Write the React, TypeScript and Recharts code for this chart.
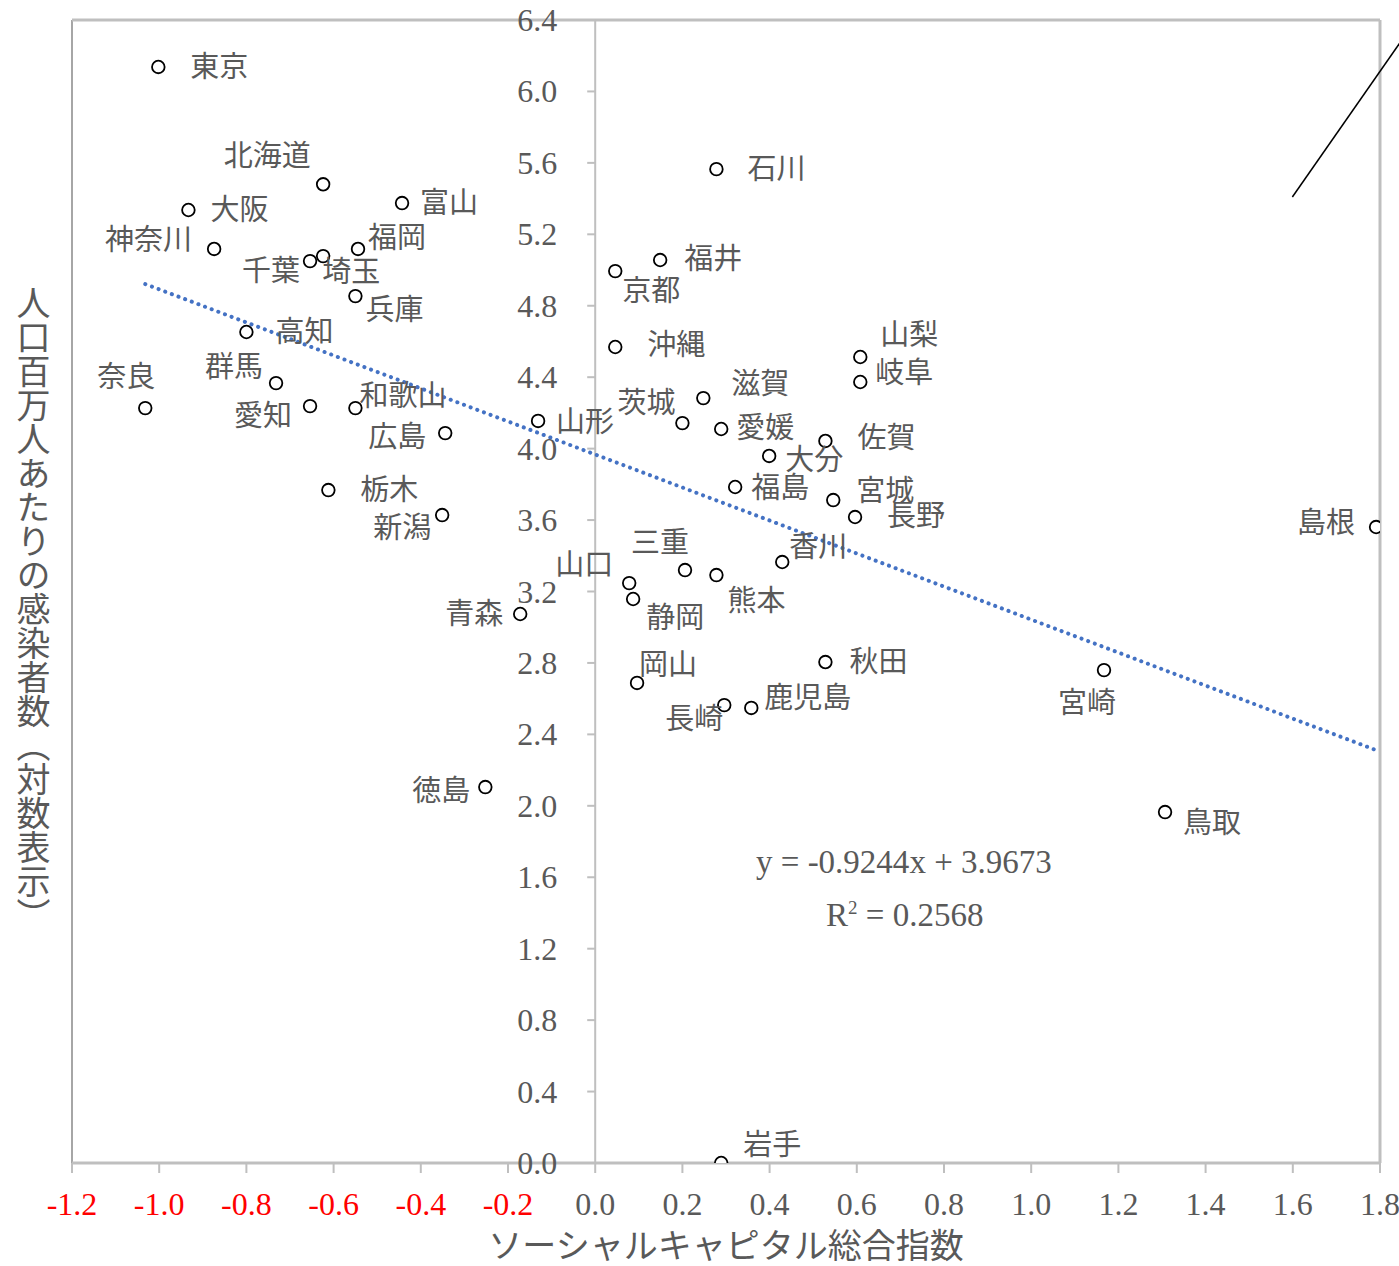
import React from "react"
import { ReferenceLine, Scatter, ScatterChart, XAxis, YAxis } from "recharts"

// 都道府県ごとの値（ソーシャルキャピタル総合指数, 人口百万人あたりの感染者数 対数）
const prefectures = [
  "東京", "北海道", "大阪", "富山", "神奈川", "福岡", "千葉", "埼玉", "兵庫", "高知",
  "群馬", "奈良", "愛知", "和歌山", "広島", "山形", "栃木", "新潟", "青森", "徳島",
  "石川", "京都", "福井", "沖縄", "山梨", "岐阜", "滋賀", "茨城", "愛媛", "佐賀",
  "大分", "福島", "宮城", "長野", "島根", "香川", "三重", "熊本", "山口", "静岡",
  "秋田", "宮崎", "岡山", "長崎", "鹿児島", "鳥取", "岩手",
]
const socialCapital = [
  -1.002, -0.624, -0.933, -0.443, -0.874, -0.544, -0.654, -0.624, -0.55, -0.8,
  -0.732, -1.032, -0.654, -0.55, -0.344, -0.131, -0.612, -0.351, -0.172, -0.252,
  0.278, 0.046, 0.149, 0.046, 0.608, 0.608, 0.248, 0.2, 0.289, 0.528,
  0.399, 0.321, 0.546, 0.596, 1.791, 0.429, 0.206, 0.278, 0.078, 0.087,
  0.528, 1.167, 0.096, 0.296, 0.358, 1.307, 0.289,
]
const infections = [
  6.137, 5.48, 5.336, 5.375, 5.118, 5.118, 5.05, 5.078, 4.854, 4.653,
  4.367, 4.227, 4.238, 4.227, 4.087, 4.155, 3.768, 3.628, 3.074, 2.105,
  5.565, 4.994, 5.056, 4.569, 4.513, 4.373, 4.283, 4.143, 4.11, 4.043,
  3.959, 3.785, 3.712, 3.617, 3.561, 3.365, 3.32, 3.292, 3.247, 3.158,
  2.805, 2.76, 2.688, 2.564, 2.548, 1.965, 0,
]
const xTicks = [-1.2, -1.0, -0.8, -0.6, -0.4, -0.2, 0.0, 0.2, 0.4, 0.6, 0.8, 1.0, 1.2, 1.4, 1.6, 1.8]
const yTicks = [0.0, 0.4, 0.8, 1.2, 1.6, 2.0, 2.4, 2.8, 3.2, 3.6, 4.0, 4.4, 4.8, 5.2, 5.6, 6.0, 6.4]
const slope = -0.9244
const intercept = 3.9673
const r2 = 0.2568

const data = prefectures.map((name, i) => ({ name, x: socialCapital[i], y: infections[i] }))

// label placement: [textAnchor, dx, dy]
const labelPos: Record<string, [string, number, number]> = {
  東京: ["start", 32, 0], 北海道: ["middle", -56, -28], 大阪: ["start", 22, 0], 富山: ["start", 18, 0],
  神奈川: ["end", -22, -9], 福岡: ["start", 10, -11], 千葉: ["end", -10, 10], 埼玉: ["start", -1, 16],
  兵庫: ["start", 10, 14], 高知: ["start", 29, 0], 群馬: ["end", -13, -16], 奈良: ["middle", -19, -31],
  愛知: ["end", -18, 10], 和歌山: ["start", 4, -12], 広島: ["end", -19, 4], 山形: ["start", 18, 1],
  栃木: ["start", 32, 0], 新潟: ["end", -11, 13], 青森: ["end", -17, 0], 徳島: ["end", -15, 4],
  石川: ["start", 31, 0], 京都: ["start", 7, 20], 福井: ["start", 24, -1], 沖縄: ["start", 32, -2],
  山梨: ["start", 20, -22], 岐阜: ["start", 15, -9], 滋賀: ["start", 28, -14], 茨城: ["end", -7, -20],
  愛媛: ["start", 15, -1], 佐賀: ["start", 32, -3], 大分: ["start", 16, 4], 福島: ["start", 16, 1],
  宮城: ["start", 23, -9], 長野: ["start", 32, -1], 島根: ["end", -21, -4], 香川: ["start", 7, -15],
  三重: ["end", 4, -27], 熊本: ["start", 11, 26], 山口: ["end", -16, -18], 静岡: ["start", 13, 19],
  秋田: ["start", 24, 0], 宮崎: ["middle", -17, 33], 岡山: ["start", 2, -18], 長崎: ["end", -1, 14],
  鹿児島: ["start", 13, -10], 鳥取: ["start", 18, 11], 岩手: ["start", 22, -18],
}

const W = 1399
const H = 1266
const PLOT_LEFT = 72
const PLOT_RIGHT = 1380
const PLOT_TOP = 20
const PLOT_BOTTOM = 1163
const X_MIN = -1.2
const X_MAX = 1.8
const ZERO_X = PLOT_LEFT + ((0 - X_MIN) / (X_MAX - X_MIN)) * (PLOT_RIGHT - PLOT_LEFT)

const gray = "#595959"
const lineGray = "#bfbfbf"
const numFont = "'Liberation Serif', 'DejaVu Serif', serif"
const jpFont = "'Liberation Serif', 'Noto Sans CJK JP', serif"

const xMinData = Math.min(...socialCapital)
const xMaxData = Math.max(...socialCapital)

function XTick(props: any) {
  const v = props.payload.value
  return (
    <text x={props.x} y={PLOT_BOTTOM + 41} textAnchor="middle" dominantBaseline="central"
      fontSize={32} fontFamily={numFont} fill={v < 0 ? "#ff0000" : gray}>
      {v.toFixed(1)}
    </text>
  )
}

function YTick(props: any) {
  const v = props.payload.value
  return (
    <g>
      <line x1={ZERO_X - 8} x2={ZERO_X} y1={props.y} y2={props.y} stroke={lineGray} strokeWidth={2} />
      <text x={ZERO_X - 38} y={props.y} textAnchor="end" dominantBaseline="central"
        fontSize={32} fontFamily={numFont} fill={gray}>
        {v.toFixed(1)}
      </text>
    </g>
  )
}

function PointShape(props: any) {
  const { cx, cy, payload } = props
  const [anchor, dx, dy] = labelPos[payload.name] ?? ["start", 20, 0]
  return (
    <g>
      <circle cx={cx} cy={cy} r={6.3} fill="#fff" stroke="#000" strokeWidth={1.8} />
      <text x={cx + dx} y={cy + dy} textAnchor={anchor as any} dominantBaseline="central"
        fontSize={29} fontFamily={jpFont} fill={gray}>
        {payload.name}
      </text>
    </g>
  )
}

export default function App() {
  return (
    <div style={{ position: "absolute", left: 0, top: 0, width: W, height: H, background: "#fff" }}>
      <ScatterChart width={W} height={H} margin={{ top: PLOT_TOP, right: W - PLOT_RIGHT, left: 0, bottom: 0 }}>
        <XAxis type="number" dataKey="x" domain={[X_MIN, X_MAX]} ticks={xTicks} height={H - PLOT_BOTTOM}
          allowDataOverflow axisLine={{ stroke: lineGray, strokeWidth: 3 }}
          tickLine={{ stroke: lineGray, strokeWidth: 2 }} tickSize={10} tick={<XTick />} interval={0} />
        <YAxis type="number" dataKey="y" domain={[0, 6.4]} ticks={yTicks} width={PLOT_LEFT} allowDataOverflow
          axisLine={false} tickLine={false} tick={<YTick />} interval={0} />
        <ReferenceLine x={X_MIN} stroke="#a6a6a6" strokeWidth={2} />
        <ReferenceLine x={X_MAX} stroke={lineGray} strokeWidth={3} />
        <ReferenceLine y={6.4} stroke={lineGray} strokeWidth={3} />
        <ReferenceLine x={0} stroke={lineGray} strokeWidth={2} />
        <ReferenceLine
          segment={[
            { x: xMinData, y: intercept + slope * xMinData },
            { x: xMaxData, y: intercept + slope * xMaxData },
          ]}
          stroke="#4472c4" strokeWidth={4} strokeDasharray="0.1 7" strokeLinecap="round" />
        <ReferenceLine segment={[{ x: 1.599, y: 5.409 }, { x: 1.845, y: 6.27 }]}
          stroke="#000" strokeWidth={1.5} ifOverflow="visible" />
        <Scatter data={data} shape={<PointShape />} isAnimationActive={false} />
      </ScatterChart>

      <div style={{ position: "absolute", left: 756, top: 846, fontFamily: numFont, fontSize: 33, lineHeight: 1, color: gray, whiteSpace: "nowrap" }}>
        y = {slope}x + {intercept}
      </div>
      <div style={{ position: "absolute", left: 826, top: 898, fontFamily: numFont, fontSize: 33, lineHeight: 1, color: gray, whiteSpace: "nowrap" }}>
        R<sup style={{ fontSize: 19 }}>2</sup> = {r2}
      </div>
      <div style={{
        position: "absolute", left: 13, top: 286, writingMode: "vertical-rl", fontFamily: jpFont,
        fontSize: 34, color: gray, whiteSpace: "nowrap", lineHeight: 1,
      }}>
        人口百万人あたりの感染者数（対数表示）
      </div>
      <div style={{
        position: "absolute", left: PLOT_LEFT, width: PLOT_RIGHT - PLOT_LEFT, top: 1230, textAlign: "center",
        fontFamily: jpFont, fontSize: 34, color: gray, whiteSpace: "nowrap", lineHeight: 1,
      }}>
        ソーシャルキャピタル総合指数
      </div>
    </div>
  )
}
